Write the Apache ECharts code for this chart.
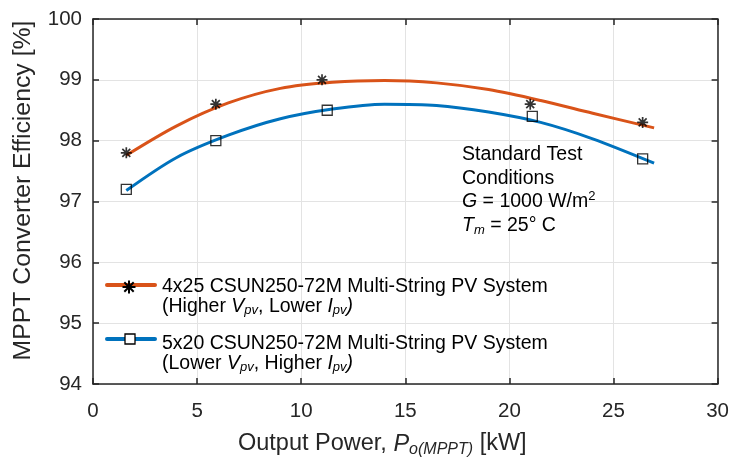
<!DOCTYPE html>
<html>
<head>
<meta charset="utf-8">
<style>
  html, body { margin: 0; padding: 0; background: #fff; }
  #chart { width: 732px; height: 466px; }
</style>
<script src="https://cdn.jsdelivr.net/npm/echarts@6/dist/echarts.min.js"></script>
</head>
<body>
<div id="chart"></div>
<script>
// Measured efficiency points (output power in kW, efficiency in %)
const powerStar   = [1.6, 5.9, 11.0, 21.0, 26.4];
const effStar     = [97.8, 98.6, 99.0, 98.6, 98.3];
const powerSquare = [1.6, 5.9, 11.25, 21.1, 26.4];
const effSquare   = [97.2, 98.0, 98.5, 98.4, 97.7];

// Fitted trend curves
const fitPower  = [1.6, 4, 6.5, 9, 11.5, 14, 16.5, 19, 21.5, 24, 26.95];
const fitOrange = [97.76, 98.24, 98.62, 98.86, 98.96, 98.99, 98.95, 98.84, 98.66, 98.45, 98.21];
const fitBlue   = [97.18, 97.72, 98.09, 98.36, 98.52, 98.60, 98.58, 98.47, 98.30, 98.03, 97.63];

// Axis ticks
const xTicks = { min: 0, max: 30, interval: 5 };
const yTicks = { min: 94, max: 100, interval: 1 };

const ORANGE = '#D95319';
const BLUE = '#0072BD';
const INK = '#262626';
const FONT = '"Liberation Sans", Arial, sans-serif';

const pairs = (xs, ys) => xs.map((x, i) => [x, ys[i]]);

const starPath = 'path://M0,-5L0,5M-5,0L5,0M-3.6,-3.6L3.6,3.6M-3.6,3.6L3.6,-3.6';

const chart = echarts.init(document.getElementById('chart'), null, { renderer: 'canvas' });

const axisLine = { show: true, onZero: false, lineStyle: { color: INK, width: 1.5 } };
const axisTick = { show: true, inside: true, length: 6, lineStyle: { color: INK, width: 1.5 } };

const titleRich = {
  i: { fontFamily: FONT, fontStyle: 'italic', fontSize: 23.5, color: INK, lineHeight: 28 },
  s: { fontFamily: FONT, fontStyle: 'italic', fontSize: 16, color: INK, verticalAlign: 'bottom', lineHeight: 16 },
  n: { fontFamily: FONT, fontSize: 23.5, color: INK, lineHeight: 28 }
};

const LF = 19.5;
const legRich = {
  n: { fontFamily: FONT, fontSize: LF, color: INK, lineHeight: 20 },
  i: { fontFamily: FONT, fontSize: LF, fontStyle: 'italic', color: INK, lineHeight: 20 },
  s: { fontFamily: FONT, fontSize: 13, fontStyle: 'italic', color: INK, verticalAlign: 'bottom', lineHeight: 13 },
  sup: { fontFamily: FONT, fontSize: 13, color: INK, verticalAlign: 'top', lineHeight: 13 }
};

function starLines(cx, cy, r) {
  const d = r * 0.72;
  const segs = [[0, -r, 0, r], [-r, 0, r, 0], [-d, -d, d, d], [-d, d, d, -d]];
  return segs.map(s => ({
    type: 'line',
    shape: { x1: cx + s[0], y1: cy + s[1], x2: cx + s[2], y2: cy + s[3] },
    style: { stroke: '#000', lineWidth: 2 },
    z: 20
  }));
}

chart.setOption({
  animation: false,
  backgroundColor: '#fff',
  grid: { left: 93, right: 11, top: 19, bottom: 82, containLabel: false },
  xAxis: [
    {
      type: 'value', position: 'bottom',
      min: xTicks.min, max: xTicks.max, interval: xTicks.interval,
      axisLine, axisTick,
      axisLabel: { fontFamily: FONT, fontSize: 20.5, color: INK, margin: 17 },
      splitLine: { show: true, lineStyle: { color: '#e3e3e3', width: 1 } },
      name: '{n|Output Power, }{i|P}{s|o(MPPT)}{n| [kW]}',
      nameLocation: 'middle', nameGap: 46,
      nameTextStyle: { rich: titleRich, padding: [0, 46, 0, 0] }
    },
    {
      type: 'value', position: 'top',
      min: xTicks.min, max: xTicks.max, interval: xTicks.interval,
      axisLine, axisTick, axisLabel: { show: false }, splitLine: { show: false }
    }
  ],
  yAxis: [
    {
      type: 'value', position: 'left',
      min: yTicks.min, max: yTicks.max, interval: yTicks.interval,
      axisLine, axisTick,
      axisLabel: { fontFamily: FONT, fontSize: 20.5, color: INK, margin: 11 },
      splitLine: { show: true, lineStyle: { color: '#e3e3e3', width: 1 } },
      name: 'MPPT Converter Efficiency [%]',
      nameLocation: 'middle', nameGap: 57,
      nameTextStyle: { fontFamily: FONT, fontSize: 24.8, color: INK, padding: [0, 0, 0, 22] }
    },
    {
      type: 'value', position: 'right',
      min: yTicks.min, max: yTicks.max, interval: yTicks.interval,
      axisLine, axisTick, axisLabel: { show: false }, splitLine: { show: false }
    }
  ],
  series: [
    {
      name: 'fit-4x25', type: 'line', smooth: 0.3, showSymbol: false,
      data: pairs(fitPower, fitOrange),
      lineStyle: { color: ORANGE, width: 3 }, z: 3
    },
    {
      name: 'fit-5x20', type: 'line', smooth: 0.3, showSymbol: false,
      data: pairs(fitPower, fitBlue),
      lineStyle: { color: BLUE, width: 3 }, z: 3
    },
    {
      name: '4x25', type: 'scatter', symbol: starPath, symbolSize: 11,
      data: pairs(powerStar, effStar),
      itemStyle: { color: '#000', borderColor: '#000', borderWidth: 1.7 }, z: 5
    },
    {
      name: '5x20', type: 'scatter', symbol: 'rect', symbolSize: 10,
      data: pairs(powerSquare, effSquare),
      itemStyle: { color: 'rgba(0,0,0,0)', borderColor: '#000', borderWidth: 1.3 }, z: 5
    }
  ],
  graphic: [
    // Test-condition note
    {
      type: 'text', left: 462, top: 145, z: 10,
      style: {
        text: [
          '{n|Standard Test}',
          '{n|Conditions}',
          '{i|G}{n| = 1000 W/m}{sup|2}',
          '{i|T}{s|m}{n| = 25° C}'
        ].join('\n'),
        rich: {
          n: { fontFamily: FONT, fontSize: LF, color: INK, lineHeight: 23.5 },
          i: { fontFamily: FONT, fontSize: LF, fontStyle: 'italic', color: INK, lineHeight: 23.5 },
          s: { fontFamily: FONT, fontSize: 13, fontStyle: 'italic', color: INK, verticalAlign: 'bottom', lineHeight: 13 },
          sup: { fontFamily: FONT, fontSize: 13, color: INK, verticalAlign: 'top', lineHeight: 13 }
        }
      }
    },
    // Legend entry: 4x25 array
    {
      type: 'line', z: 19,
      shape: { x1: 107, y1: 285, x2: 155, y2: 285 },
      style: { stroke: ORANGE, lineWidth: 4, lineCap: 'round' }
    },
    ...starLines(129, 287, 6.5),
    {
      type: 'text', left: 162, top: 277, z: 20,
      style: {
        text: '{n|4x25 CSUN250-72M Multi-String PV System}\n{n|(Higher }{i|V}{s|pv}{n|, Lower }{i|I}{s|pv}{i|)}',
        rich: legRich
      }
    },
    // Legend entry: 5x20 array
    {
      type: 'line', z: 19,
      shape: { x1: 107, y1: 339, x2: 155, y2: 339 },
      style: { stroke: BLUE, lineWidth: 4, lineCap: 'round' }
    },
    {
      type: 'rect', z: 20,
      shape: { x: 125, y: 334, width: 10, height: 10 },
      style: { fill: '#fff', stroke: '#000', lineWidth: 1.3 }
    },
    {
      type: 'text', left: 162, top: 334, z: 20,
      style: {
        text: '{n|5x20 CSUN250-72M Multi-String PV System}\n{n|(Lower }{i|V}{s|pv}{n|, Higher }{i|I}{s|pv}{i|)}',
        rich: legRich
      }
    }
  ]
});
</script>
</body>
</html>
